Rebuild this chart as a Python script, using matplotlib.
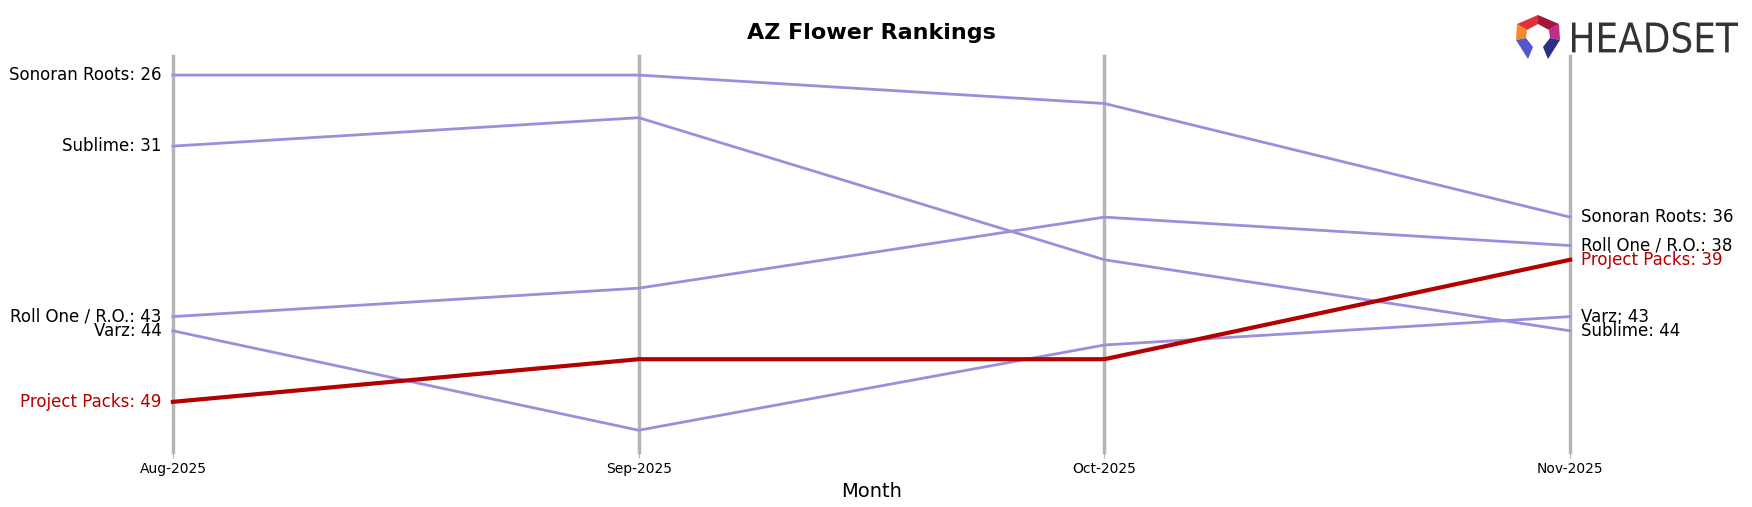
import numpy as np
import matplotlib
matplotlib.use("Agg")
import matplotlib.pyplot as plt
from matplotlib.textpath import TextPath
from matplotlib.patches import PathPatch, Polygon
from matplotlib.transforms import Affine2D
from matplotlib.font_manager import FontProperties

# data
months = ["Aug-2025", "Sep-2025", "Oct-2025", "Nov-2025"]
brands = ["Sonoran Roots", "Sublime", "Roll One / R.O.", "Varz", "Project Packs"]
sonoran_roots = [26, 26, 28, 36]
sublime = [31, 29, 39, 44]
roll_one = [43, 41, 36, 38]
varz = [44, 51, 45, 43]
project_packs = [49, 46, 46, 39]
highlight = "Project Packs"

ranks = [sonoran_roots, sublime, roll_one, varz, project_packs]

purple = "#9b8fdc"
red = "#b30000"

fig = plt.figure(figsize=(17.52, 5.07), dpi=100)
ax = fig.add_axes([0.0987, 0.1085, 0.7975, 0.781])

x = np.arange(len(months))

# vertical month lines
for xi in x:
    ax.axvline(xi, color="#b5b5b5", lw=2.5, zorder=1, clip_on=False)

for name, r in zip(brands, ranks):
    if name == highlight:
        ax.plot(x, r, color=red, lw=3, zorder=3, clip_on=False)
    else:
        ax.plot(x, r, color=purple, lw=2, zorder=2, clip_on=False)

# labels at both ends
for name, r in zip(brands, ranks):
    col = red if name == highlight else "black"
    ax.annotate(f"{name}: {r[0]}", (x[0], r[0]), xytext=(-8, 0),
                textcoords="offset points", ha="right", va="center",
                fontsize=12, color=col)
    ax.annotate(f"{name}: {r[-1]}", (x[-1], r[-1]), xytext=(8, 0),
                textcoords="offset points", ha="left", va="center",
                fontsize=12, color=col)

ax.set_xlim(0, 3)
ax.set_ylim(52.53, 24.66)
ax.set_xticks(x)
ax.set_xticklabels(months, fontsize=10)
ax.set_yticks([])
ax.tick_params(axis="x", length=4, color="#b5b5b5")
for s in ax.spines.values():
    s.set_visible(False)

ax.set_xlabel("Month", fontsize=14)
ax.set_title("AZ Flower Rankings", fontsize=16, fontweight="bold", pad=12)

# headset logo (approximate), drawn in pixel coords from the top-left
H = 507

def add_poly(pts, c):
    fig.patches.append(Polygon([(a, H - b) for a, b in pts], closed=True,
                               color=c, lw=0, transform=None, figure=fig))

T, IT = (1538, 15), (1538, 24)
UL, IUL = (1517, 24), (1527, 30)
UR, IUR = (1559, 24), (1549, 30)
LL, ILL = (1516, 40), (1526, 38)
LR, ILR = (1560, 40), (1550, 38)
add_poly([T, UL, IUL, IT], "#e0303c")
add_poly([T, UR, IUR, IT], "#a3173c")
add_poly([UL, LL, ILL, IUL], "#f58a2a")
add_poly([UR, LR, ILR, IUR], "#c22a8c")
add_poly([LL, (1528, 59), (1533, 47), ILL], "#5558c8")
add_poly([LR, (1548, 59), (1543, 47), ILR], "#2b2f85")

tp = TextPath((0, 0), "HEADSET", size=100, prop=FontProperties(family="DejaVu Sans"))
bb = tp.get_extents()
sx = 166 / bb.width
sy = 31 / bb.height
tr = Affine2D().translate(-bb.x0, -bb.y0).scale(sx, sy).translate(1572, H - 53)
fig.patches.append(PathPatch(tr.transform_path(tp), color="#333333", lw=0,
                             transform=None, figure=fig))

fig.savefig("out.png", dpi=100)
